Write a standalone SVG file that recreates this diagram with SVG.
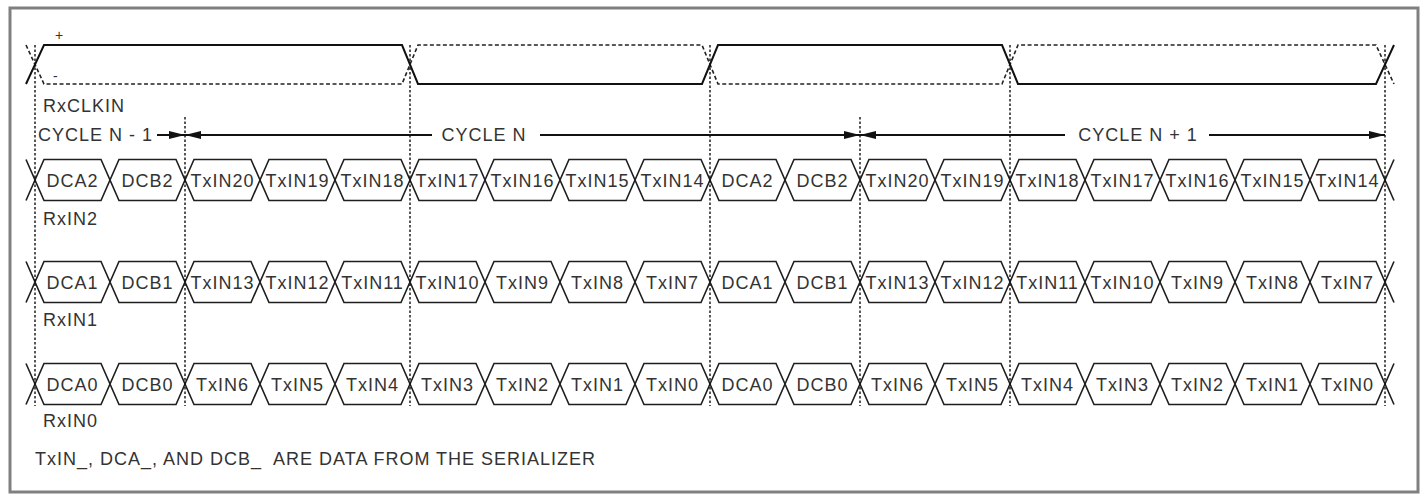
<svg xmlns="http://www.w3.org/2000/svg" xmlns:xlink="http://www.w3.org/1999/xlink" width="1425" height="497" viewBox="0 0 1425 497">
<style>
.t{font-family:"Liberation Sans",Arial,sans-serif;font-size:18px;letter-spacing:1px;fill:#333}
.c{text-anchor:middle}
.hex{fill:#fff;stroke:#1e1e1e;stroke-width:1.6}
.clk{fill:none;stroke:#111;stroke-width:2}
.clkn{fill:none;stroke:#222;stroke-width:1.6;stroke-dasharray:4 2.5}
.guide{fill:none;stroke:#111;stroke-width:1.4;stroke-dasharray:2.5 2}
.arr{fill:none;stroke:#111;stroke-width:2}
.stub{fill:none;stroke:#1e1e1e;stroke-width:1.6}
</style>
<defs>
<polygon id="hex" class="hex" points="0,0 9,-20.5 66,-20.5 75,0 66,20.5 9,20.5"/>
<marker id="ah" markerUnits="userSpaceOnUse" markerWidth="16" markerHeight="8" refX="16" refY="4" orient="auto-start-reverse">
<path d="M0,0 L16,4 L0,8 z" fill="#111"/>
</marker>
</defs>
<rect width="1425" height="497" fill="#fff"/>
<rect id="frame" x="10" y="8" width="1408" height="484" fill="none" stroke="#808080" stroke-width="3"/>

<g id="rxclkin">
<path class="clkn" d="M26,45 L44,84 H402 L418,45 H702 L718,84 H1002 L1018,45 H1376 L1394,84"/>
<path class="clk" d="M26,84 L44,45 H402 L418,84 H702 L718,45 H1002 L1018,84 H1376 L1394,45"/>
<text class="t" x="55" y="40" style="font-size:14px">+</text>
<text class="t" x="53" y="81" style="font-size:14px">-</text>
<text class="t" x="43" y="112">RxCLKIN</text>
</g>

<g id="rxin2">
<path class="stub" d="M26,159.5 L35,180 L26,200.5 M1394,159.5 L1385,180 L1394,200.5"/>
<g id="rxin2-c0"><use xlink:href="#hex" x="35" y="180"/><text class="t c" x="72.5" y="186.5">DCA2</text></g>
<g id="rxin2-c1"><use xlink:href="#hex" x="110" y="180"/><text class="t c" x="147.5" y="186.5">DCB2</text></g>
<g id="rxin2-c2"><use xlink:href="#hex" x="185" y="180"/><text class="t c" x="222.5" y="186.5">TxIN20</text></g>
<g id="rxin2-c3"><use xlink:href="#hex" x="260" y="180"/><text class="t c" x="297.5" y="186.5">TxIN19</text></g>
<g id="rxin2-c4"><use xlink:href="#hex" x="335" y="180"/><text class="t c" x="372.5" y="186.5">TxIN18</text></g>
<g id="rxin2-c5"><use xlink:href="#hex" x="410" y="180"/><text class="t c" x="447.5" y="186.5">TxIN17</text></g>
<g id="rxin2-c6"><use xlink:href="#hex" x="485" y="180"/><text class="t c" x="522.5" y="186.5">TxIN16</text></g>
<g id="rxin2-c7"><use xlink:href="#hex" x="560" y="180"/><text class="t c" x="597.5" y="186.5">TxIN15</text></g>
<g id="rxin2-c8"><use xlink:href="#hex" x="635" y="180"/><text class="t c" x="672.5" y="186.5">TxIN14</text></g>
<g id="rxin2-c9"><use xlink:href="#hex" x="710" y="180"/><text class="t c" x="747.5" y="186.5">DCA2</text></g>
<g id="rxin2-c10"><use xlink:href="#hex" x="785" y="180"/><text class="t c" x="822.5" y="186.5">DCB2</text></g>
<g id="rxin2-c11"><use xlink:href="#hex" x="860" y="180"/><text class="t c" x="897.5" y="186.5">TxIN20</text></g>
<g id="rxin2-c12"><use xlink:href="#hex" x="935" y="180"/><text class="t c" x="972.5" y="186.5">TxIN19</text></g>
<g id="rxin2-c13"><use xlink:href="#hex" x="1010" y="180"/><text class="t c" x="1047.5" y="186.5">TxIN18</text></g>
<g id="rxin2-c14"><use xlink:href="#hex" x="1085" y="180"/><text class="t c" x="1122.5" y="186.5">TxIN17</text></g>
<g id="rxin2-c15"><use xlink:href="#hex" x="1160" y="180"/><text class="t c" x="1197.5" y="186.5">TxIN16</text></g>
<g id="rxin2-c16"><use xlink:href="#hex" x="1235" y="180"/><text class="t c" x="1272.5" y="186.5">TxIN15</text></g>
<g id="rxin2-c17"><use xlink:href="#hex" x="1310" y="180"/><text class="t c" x="1347.5" y="186.5">TxIN14</text></g>
<text class="t" x="43" y="225">RxIN2</text>
</g>

<g id="rxin1">
<path class="stub" d="M26,261.5 L35,282 L26,302.5 M1394,261.5 L1385,282 L1394,302.5"/>
<g id="rxin1-c0"><use xlink:href="#hex" x="35" y="282"/><text class="t c" x="72.5" y="288.5">DCA1</text></g>
<g id="rxin1-c1"><use xlink:href="#hex" x="110" y="282"/><text class="t c" x="147.5" y="288.5">DCB1</text></g>
<g id="rxin1-c2"><use xlink:href="#hex" x="185" y="282"/><text class="t c" x="222.5" y="288.5">TxIN13</text></g>
<g id="rxin1-c3"><use xlink:href="#hex" x="260" y="282"/><text class="t c" x="297.5" y="288.5">TxIN12</text></g>
<g id="rxin1-c4"><use xlink:href="#hex" x="335" y="282"/><text class="t c" x="372.5" y="288.5">TxIN11</text></g>
<g id="rxin1-c5"><use xlink:href="#hex" x="410" y="282"/><text class="t c" x="447.5" y="288.5">TxIN10</text></g>
<g id="rxin1-c6"><use xlink:href="#hex" x="485" y="282"/><text class="t c" x="522.5" y="288.5">TxIN9</text></g>
<g id="rxin1-c7"><use xlink:href="#hex" x="560" y="282"/><text class="t c" x="597.5" y="288.5">TxIN8</text></g>
<g id="rxin1-c8"><use xlink:href="#hex" x="635" y="282"/><text class="t c" x="672.5" y="288.5">TxIN7</text></g>
<g id="rxin1-c9"><use xlink:href="#hex" x="710" y="282"/><text class="t c" x="747.5" y="288.5">DCA1</text></g>
<g id="rxin1-c10"><use xlink:href="#hex" x="785" y="282"/><text class="t c" x="822.5" y="288.5">DCB1</text></g>
<g id="rxin1-c11"><use xlink:href="#hex" x="860" y="282"/><text class="t c" x="897.5" y="288.5">TxIN13</text></g>
<g id="rxin1-c12"><use xlink:href="#hex" x="935" y="282"/><text class="t c" x="972.5" y="288.5">TxIN12</text></g>
<g id="rxin1-c13"><use xlink:href="#hex" x="1010" y="282"/><text class="t c" x="1047.5" y="288.5">TxIN11</text></g>
<g id="rxin1-c14"><use xlink:href="#hex" x="1085" y="282"/><text class="t c" x="1122.5" y="288.5">TxIN10</text></g>
<g id="rxin1-c15"><use xlink:href="#hex" x="1160" y="282"/><text class="t c" x="1197.5" y="288.5">TxIN9</text></g>
<g id="rxin1-c16"><use xlink:href="#hex" x="1235" y="282"/><text class="t c" x="1272.5" y="288.5">TxIN8</text></g>
<g id="rxin1-c17"><use xlink:href="#hex" x="1310" y="282"/><text class="t c" x="1347.5" y="288.5">TxIN7</text></g>
<text class="t" x="43" y="326">RxIN1</text>
</g>

<g id="rxin0">
<path class="stub" d="M26,363.5 L35,384 L26,404.5 M1394,363.5 L1385,384 L1394,404.5"/>
<g id="rxin0-c0"><use xlink:href="#hex" x="35" y="384"/><text class="t c" x="72.5" y="390.5">DCA0</text></g>
<g id="rxin0-c1"><use xlink:href="#hex" x="110" y="384"/><text class="t c" x="147.5" y="390.5">DCB0</text></g>
<g id="rxin0-c2"><use xlink:href="#hex" x="185" y="384"/><text class="t c" x="222.5" y="390.5">TxIN6</text></g>
<g id="rxin0-c3"><use xlink:href="#hex" x="260" y="384"/><text class="t c" x="297.5" y="390.5">TxIN5</text></g>
<g id="rxin0-c4"><use xlink:href="#hex" x="335" y="384"/><text class="t c" x="372.5" y="390.5">TxIN4</text></g>
<g id="rxin0-c5"><use xlink:href="#hex" x="410" y="384"/><text class="t c" x="447.5" y="390.5">TxIN3</text></g>
<g id="rxin0-c6"><use xlink:href="#hex" x="485" y="384"/><text class="t c" x="522.5" y="390.5">TxIN2</text></g>
<g id="rxin0-c7"><use xlink:href="#hex" x="560" y="384"/><text class="t c" x="597.5" y="390.5">TxIN1</text></g>
<g id="rxin0-c8"><use xlink:href="#hex" x="635" y="384"/><text class="t c" x="672.5" y="390.5">TxIN0</text></g>
<g id="rxin0-c9"><use xlink:href="#hex" x="710" y="384"/><text class="t c" x="747.5" y="390.5">DCA0</text></g>
<g id="rxin0-c10"><use xlink:href="#hex" x="785" y="384"/><text class="t c" x="822.5" y="390.5">DCB0</text></g>
<g id="rxin0-c11"><use xlink:href="#hex" x="860" y="384"/><text class="t c" x="897.5" y="390.5">TxIN6</text></g>
<g id="rxin0-c12"><use xlink:href="#hex" x="935" y="384"/><text class="t c" x="972.5" y="390.5">TxIN5</text></g>
<g id="rxin0-c13"><use xlink:href="#hex" x="1010" y="384"/><text class="t c" x="1047.5" y="390.5">TxIN4</text></g>
<g id="rxin0-c14"><use xlink:href="#hex" x="1085" y="384"/><text class="t c" x="1122.5" y="390.5">TxIN3</text></g>
<g id="rxin0-c15"><use xlink:href="#hex" x="1160" y="384"/><text class="t c" x="1197.5" y="390.5">TxIN2</text></g>
<g id="rxin0-c16"><use xlink:href="#hex" x="1235" y="384"/><text class="t c" x="1272.5" y="390.5">TxIN1</text></g>
<g id="rxin0-c17"><use xlink:href="#hex" x="1310" y="384"/><text class="t c" x="1347.5" y="390.5">TxIN0</text></g>
<text class="t" x="43" y="427">RxIN0</text>
</g>

<g id="cycles">
<text class="t" x="38" y="141">CYCLE N - 1</text>
<text class="t c" x="484" y="141">CYCLE N</text>
<text class="t c" x="1138" y="141">CYCLE N + 1</text>
</g>

<g id="connectors">
<path class="guide" d="M35,45 V406 M410,45 V406 M710,45 V406 M1010,45 V406 M1385,45 V406 M185,117 V406 M860,117 V406"/>
<line class="arr" x1="157" y1="135" x2="185" y2="135" marker-end="url(#ah)"/>
<line class="arr" x1="185" y1="135" x2="432" y2="135" marker-start="url(#ah)"/>
<line class="arr" x1="540" y1="135" x2="860" y2="135" marker-end="url(#ah)"/>
<line class="arr" x1="860" y1="135" x2="1065" y2="135" marker-start="url(#ah)"/>
<line class="arr" x1="1209" y1="135" x2="1385" y2="135" marker-end="url(#ah)"/>
</g>

<g id="note">
<text class="t" x="35" y="465" xml:space="preserve">TxIN_, DCA_, AND DCB_  ARE DATA FROM THE SERIALIZER</text>
</g>
</svg>
